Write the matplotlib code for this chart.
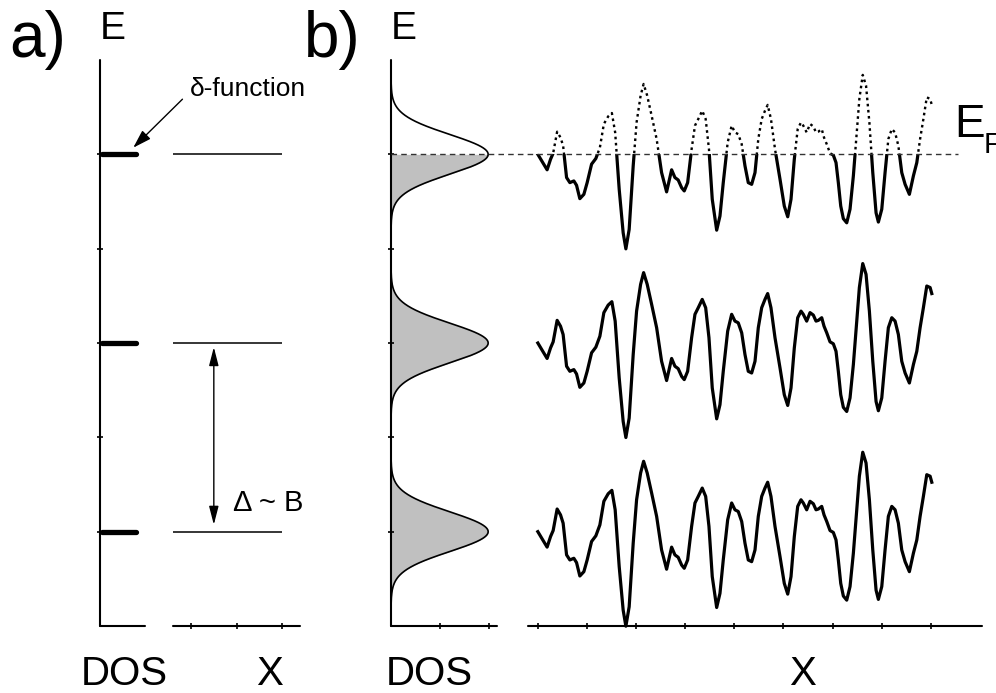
import numpy as np
import matplotlib
matplotlib.use('Agg')
import matplotlib.pyplot as plt
import matplotlib.transforms as mtransforms
from matplotlib.patches import Rectangle
from matplotlib.lines import Line2D

plt.rcParams['font.family'] = ['Liberation Sans', 'DejaVu Sans']

# Landau levels (units of level spacing) and Fermi energy
levels = [1.0, 2.0, 3.0]
e_fermi = 3.0
dos_peak = 1.98
dos_width = 0.105

# fluctuation pattern along X, identical for every level
x_trace = [0.00, 0.108, 0.189, 0.259, 0.312, 0.393, 0.462, 0.515, 0.585, 0.652,
           0.733, 0.788, 0.855, 0.937, 1.004, 1.094, 1.181, 1.263, 1.344, 1.432,
           1.507, 1.574, 1.656, 1.737, 1.792, 1.859, 1.941, 2.010, 2.092, 2.153,
           2.226, 2.316, 2.418, 2.519, 2.621, 2.723, 2.790, 2.857, 2.927, 2.980,
           3.049, 3.130, 3.198, 3.265, 3.346, 3.416, 3.483, 3.550, 3.640, 3.707,
           3.774, 3.864, 3.945, 4.012, 4.079, 4.149, 4.216, 4.283, 4.352, 4.420,
           4.487, 4.556, 4.623, 4.678, 4.745, 4.827, 4.929, 5.016, 5.086, 5.153,
           5.220, 5.289, 5.356, 5.403, 5.472, 5.540, 5.607, 5.662, 5.709, 5.778,
           5.825, 5.880, 5.947, 6.014, 6.069, 6.116, 6.165, 6.218, 6.287, 6.354,
           6.422, 6.491, 6.544, 6.613, 6.680, 6.748, 6.817, 6.884, 6.931, 7.000,
           7.067, 7.134, 7.204, 7.271, 7.338, 7.407, 7.475, 7.562, 7.644, 7.713,
           7.780, 7.847, 7.916, 7.984, 8.018]
de_trace = [0.000, -0.047, -0.082, -0.026, 0.006, 0.120, 0.089, 0.045, -0.123, -0.150,
            -0.141, -0.164, -0.235, -0.212, -0.150, -0.052, -0.022, 0.036, 0.161, 0.201,
            0.219, 0.116, -0.185, -0.416, -0.501, -0.398, -0.061, 0.169, 0.311, 0.373,
            0.311, 0.205, 0.081, -0.097, -0.199, -0.082, -0.123, -0.136, -0.177, -0.194,
            -0.150, 0.028, 0.152, 0.187, 0.231, 0.187, 0.028, -0.238, -0.402, -0.327,
            -0.150, 0.063, 0.152, 0.116, 0.107, 0.054, -0.061, -0.150, -0.159, -0.097,
            0.081, 0.187, 0.231, 0.262, 0.187, 0.028, -0.132, -0.274, -0.331, -0.238,
            -0.026, 0.134, 0.169, 0.152, 0.116, 0.161, 0.148, 0.116, 0.120, 0.134,
            0.089, 0.054, 0.006, -0.004, -0.044, -0.150, -0.274, -0.341, -0.363, -0.291,
            -0.114, 0.116, 0.294, 0.421, 0.364, 0.169, -0.097, -0.310, -0.359, -0.291,
            -0.097, 0.081, 0.134, 0.116, 0.045, -0.097, -0.159, -0.212, -0.114, -0.044,
            0.081, 0.187, 0.302, 0.294, 0.262]

e_ticks = [1.0, 1.5, 2.0, 2.5, 3.0]
x_ticks_a = [1, 2, 3]
x_ticks_b = [0, 1, 2, 3, 4, 5, 6, 7, 8]
dos_ticks_b = [1, 2]

W, H = 996, 693
fig = plt.figure(figsize=(W / 100, H / 100), dpi=100)
bot, hgt = (H - 626) / H, 566 / H

ax_ad = fig.add_axes([100 / W, bot, 45 / W, hgt])
ax_ax = fig.add_axes([173 / W, bot, 127 / W, hgt])
ax_bd = fig.add_axes([391 / W, bot, 106 / W, hgt])
ax_bx = fig.add_axes([528 / W, bot, 454 / W, hgt])


def style(ax, left):
    ax.set_ylim(0.5, 3.5)
    ax.patch.set_visible(False)
    ax.spines['top'].set_visible(False)
    ax.spines['right'].set_visible(False)
    ax.spines['left'].set_visible(left)
    for s in ['left', 'bottom']:
        ax.spines[s].set_linewidth(1.5)
        ax.spines[s].set_capstyle('round')
    ax.tick_params(direction='inout', length=4, width=1.2,
                   labelbottom=False, labelleft=False)
    if left:
        ax.set_yticks(e_ticks)
    else:
        ax.set_yticks([])


for ax, left in [(ax_ad, True), (ax_ax, False), (ax_bd, True), (ax_bx, False)]:
    style(ax, left)

# a) delta-function DOS and flat levels
ax_ad.set_xlim(0, 1.2)
ax_ad.set_xticks([])
for lev in levels:
    ax_ad.plot([0.06, 0.95], [lev, lev], color='k', lw=3.8,
               solid_capstyle='round', clip_on=False)

ax_ax.set_xlim(0.6, 3.4)
ax_ax.set_xticks(x_ticks_a)
ax_ax.hlines(levels, 0.6, 3.0, color='k', lw=1.1)
ax_ax.annotate('', xy=(1.5, levels[0]), xytext=(1.5, levels[1]),
               arrowprops=dict(arrowstyle='<|-|>,head_length=0.7,head_width=0.18',
                               color='k', lw=1.0, mutation_scale=16,
                               shrinkA=3, shrinkB=5))
ax_ax.text(1.93, 1.11, 'Δ ~ B', fontsize=21, va='baseline')
ax_ad.annotate('δ-function', xy=(0.86, 3.03), xycoords='data',
               xytext=(0.98, 3.31), textcoords=ax_ax.transData,
               fontsize=19, va='baseline',
               arrowprops=dict(arrowstyle='-|>,head_length=0.7,head_width=0.22',
                               color='k', lw=1.0, mutation_scale=16,
                               relpos=(-0.05, 0.15), shrinkA=2, shrinkB=1))

# b) broadened DOS
E = np.linspace(0.5, 3.5, 3001)
dos = np.zeros_like(E)
for lev in levels:
    dos += dos_peak * np.exp(-(E - lev) ** 2 / (2 * dos_width ** 2))
ax_bd.set_xlim(0, 2.16)
ax_bd.set_xticks(dos_ticks_b)
ax_bd.fill_betweenx(E, 0, dos, where=E <= e_fermi + 1e-9, color='#c0c0c0', lw=0)
ax_bd.plot(dos, E, color='k', lw=1.2)

trans = mtransforms.blended_transform_factory(fig.transFigure, ax_bd.transData)
fig.add_artist(Line2D([391 / W, 958 / W], [e_fermi, e_fermi], transform=trans,
                      color='#333333', lw=1.0, ls=(0, (4, 3))))

# b) fluctuating levels along X
ax_bx.set_xlim(-0.2, 9.04)
ax_bx.set_xticks(x_ticks_b)
x = np.array(x_trace)
de = np.array(de_trace)
for lev in levels[:2]:
    ax_bx.plot(x, lev + de, color='k', lw=2.3, solid_joinstyle='round', clip_on=False)

below = Rectangle((-1, 0), 11, e_fermi, transform=ax_bx.transData)
above = Rectangle((-1, e_fermi), 11, 2, transform=ax_bx.transData)
solid, = ax_bx.plot(x, levels[2] + de, color='k', lw=2.3, solid_joinstyle='round')
solid.set_clip_path(below)
dots, = ax_bx.plot(x, levels[2] + de, color='k', lw=1.7, ls=(0, (1.1, 1.5)))
dots.set_clip_path(above)

# labels
fig.text(9 / W, 1 - 57 / H, 'a)', fontsize=46, va='baseline')
fig.text(304 / W, 1 - 57 / H, 'b)', fontsize=46, va='baseline')
fig.text(100 / W, 1 - 39 / H, 'E', fontsize=28, va='baseline')
fig.text(391 / W, 1 - 39 / H, 'E', fontsize=28, va='baseline')
fig.text(124 / W, 8 / H, 'DOS', fontsize=29, ha='center', va='baseline')
fig.text(270 / W, 8 / H, 'X', fontsize=29, ha='center', va='baseline')
fig.text(429 / W, 8 / H, 'DOS', fontsize=29, ha='center', va='baseline')
fig.text(803 / W, 8 / H, 'X', fontsize=29, ha='center', va='baseline')
fig.text(954 / W, 1 - 137 / H, 'E', fontsize=33, va='baseline')
fig.text(984 / W, 1 - 153 / H, 'F', fontsize=21, va='baseline')

fig.savefig('out.png', dpi=100)
